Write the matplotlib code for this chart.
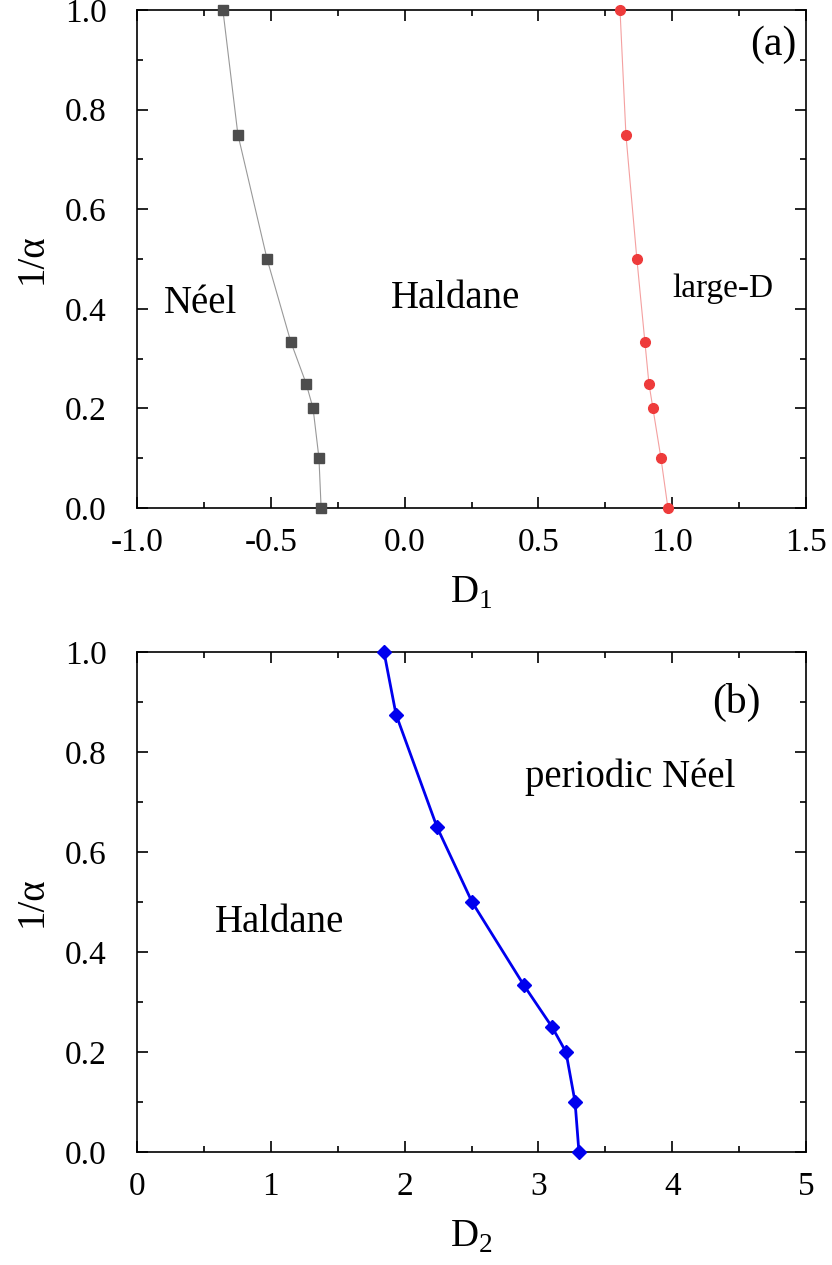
import matplotlib
matplotlib.use("Agg")
import matplotlib.pyplot as plt
from matplotlib.ticker import MultipleLocator, FormatStrFormatter

plt.rcParams['font.family'] = ['Liberation Serif', 'DejaVu Serif']
plt.rcParams['mathtext.fontset'] = 'custom'
plt.rcParams['mathtext.rm'] = 'Liberation Serif'

y_a = [1.0, 0.75, 0.5, 0.3333, 0.25, 0.2, 0.1, 0.0]
neel_D1 = [-0.679, -0.623, -0.514, -0.425, -0.368, -0.342, -0.32, -0.312]
larged_D1 = [0.805, 0.827, 0.868, 0.898, 0.913, 0.928, 0.958, 0.984]
y_b = [1.0, 0.875, 0.65, 0.5, 0.3333, 0.25, 0.2, 0.1, 0.0]
D2 = [1.846, 1.936, 2.242, 2.504, 2.892, 3.102, 3.206, 3.274, 3.303]

fig = plt.figure(figsize=(8.32, 12.65), dpi=100)
W, H = 832, 1265
ax1 = fig.add_axes([137/W, 1-508/H, 669/W, 498/H])
ax2 = fig.add_axes([137/W, 1-1152/H, 669/W, 500/H])

ax1.plot(neel_D1, y_a, '-', color='#999999', lw=0.8)
ax1.plot(neel_D1, y_a, 's', color='#4d4d4d', ms=7, clip_on=False, zorder=3)
ax1.plot(larged_D1, y_a, '-', color='#f4a0a0', lw=0.8)
ax1.plot(larged_D1, y_a, 'o', color='#ee3b3b', ms=7, clip_on=False, zorder=3)
ax1.set_xlim(-1, 1.5)
ax1.set_ylim(0, 1)
ax1.xaxis.set_major_locator(MultipleLocator(0.5))
ax1.xaxis.set_minor_locator(MultipleLocator(0.25))
ax1.xaxis.set_major_formatter(FormatStrFormatter('%.1f'))
ax1.set_xlabel('D$_1$', fontsize=28, labelpad=12)
ax1.text(-0.9, 0.41, 'Néel', fontsize=28, va='center')
ax1.text(-0.05, 0.42, 'Haldane', fontsize=28, va='center')
ax1.text(1.0, 0.44, 'large-D', fontsize=24, va='center')
ax1.text(1.29, 0.93, '(a)', fontsize=30, va='center')

ax2.plot(D2, y_b, 'D-', color='#0000ee', lw=2, ms=7, clip_on=False, zorder=3)
ax2.set_xlim(0, 5)
ax2.set_ylim(0, 1)
ax2.xaxis.set_major_locator(MultipleLocator(1))
ax2.xaxis.set_minor_locator(MultipleLocator(0.5))
ax2.set_xlabel('D$_2$', fontsize=28, labelpad=12)
ax2.text(0.58, 0.46, 'Haldane', fontsize=28, va='center')
ax2.text(2.9, 0.75, 'periodic Néel', fontsize=28, va='center')
ax2.text(4.3, 0.9, '(b)', fontsize=30, va='center')

for ax in (ax1, ax2):
    ax.yaxis.set_major_locator(MultipleLocator(0.2))
    ax.yaxis.set_minor_locator(MultipleLocator(0.1))
    ax.yaxis.set_major_formatter(FormatStrFormatter('%.1f'))
    ax.set_ylabel('1/α', fontsize=28, labelpad=10)
    ax.tick_params(which='both', direction='in', top=True, right=True, labelsize=24, width=1.2)
    ax.tick_params(axis='x', which='major', pad=14)
    ax.tick_params(axis='y', which='major', pad=22)
    ax.tick_params(which='major', length=8)
    ax.tick_params(which='minor', length=4)
    for s in ax.spines.values():
        s.set_linewidth(1.2)

fig.savefig('out.png', dpi=100)
